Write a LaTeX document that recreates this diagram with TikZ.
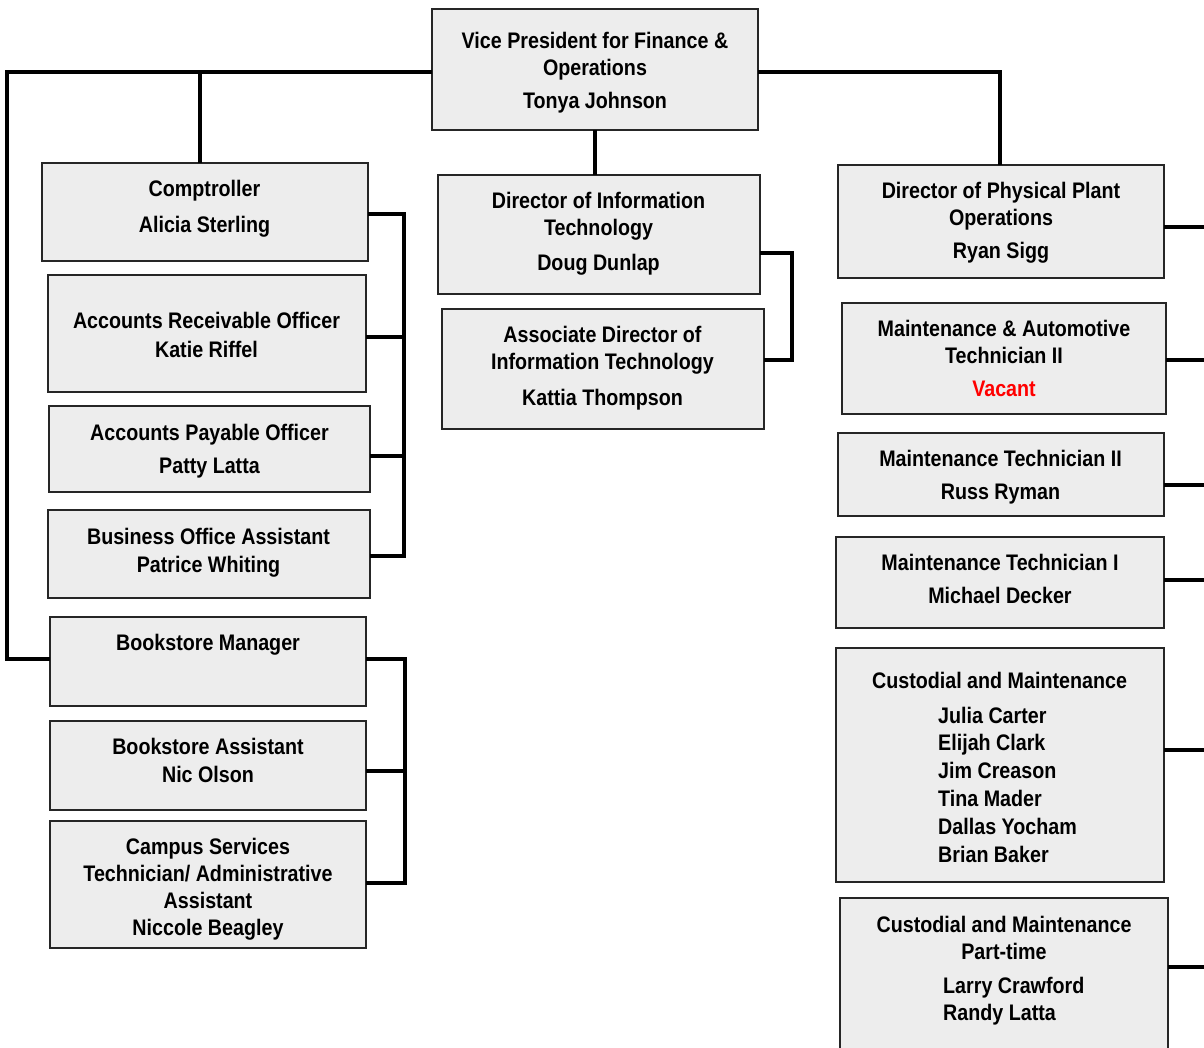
\documentclass[tikz,border=0pt]{standalone}
\usepackage{fontspec}
\setmainfont{Liberation Sans}[FakeStretch=0.875]
\usetikzlibrary{calc}
\definecolor{boxfill}{HTML}{EDEDED}
\definecolor{vac}{HTML}{FF0000}
\newcommand\obox[5]{\node[box, minimum width={#4-#2}, minimum height={#5-#3}] (#1) at ({(#2+#4)/2},{(#3+#5)/2}) {};}
\begin{document}
\begin{tikzpicture}[x=1pt,y=-1pt,
  box/.style={rectangle, draw=black!85, line width=2.2pt, fill=boxfill, inner sep=0pt, outer sep=0pt},
  conn/.style={line width=4pt, draw=black},
  txt/.style={font=\fontsize{22.5}{27}\selectfont\bfseries, align=center, inner sep=0pt, anchor=north},
  ltxt/.style={font=\fontsize{22.5}{27.8}\selectfont\bfseries, align=left, inner sep=0pt, anchor=north west}]
\useasboundingbox (0,0) rectangle (1204,1047);
\clip (0,0) rectangle (1204,1047);
% boxes
\obox{vp}{432}{9}{758}{130}
\obox{comp}{42}{163}{368}{261}
\obox{ar}{48}{275}{366}{392}
\obox{ap}{49}{406}{370}{492}
\obox{boa}{48}{510}{370}{598}
\obox{bm}{50}{617}{366}{706}
\obox{ba}{50}{721}{366}{810}
\obox{cs}{50}{821}{366}{948}
\obox{dit}{438}{175}{760}{294}
\obox{adit}{442}{309}{764}{429}
\obox{dpp}{838}{165}{1164}{278}
\obox{mat}{842}{303}{1166}{414}
\obox{mt2}{838}{433}{1164}{516}
\obox{mt1}{836}{537}{1164}{628}
\obox{cust}{836}{648}{1164}{882}
\obox{ptc}{840}{898}{1168}{1070}
% texts
\node[txt] (vpT) at (595,31.5) {Vice President for Finance \&\\Operations\\[6pt]Tonya Johnson};
\node[txt] (compT) at (204.5,179.5) {Comptroller\\[9pt]Alicia Sterling};
\node[txt] (arT) at (206.5,311.5) {Accounts Receivable Officer\\[2pt]Katie Riffel};
\node[txt] (apT) at (209.5,423.5) {Accounts Payable Officer\\[6pt]Patty Latta};
\node[txt] (boaT) at (208.5,527.5) {Business Office Assistant\\[1pt]Patrice Whiting};
\node[txt] (bmT) at (208,633.5) {Bookstore Manager};
\node[txt] (baT) at (208,737.5) {Bookstore Assistant\\[1pt]Nic Olson};
\begin{scope}
\clip (50,821) rectangle (366,939);
\node[txt] (csT) at (208,837.5) {Campus Services\\Technician/ Administrative\\Assistant\\Niccole Beagley};
\end{scope}
\node[txt] (ditT) at (598.5,191.5) {Director of Information\\Technology\\[8pt]Doug Dunlap};
\node[txt] (aditT) at (602.5,325.5) {Associate Director of\\Information Technology\\[9pt]Kattia Thompson};
\node[txt] (dppT) at (1001,181.5) {Director of Physical Plant\\Operations\\[6pt]Ryan Sigg};
\node[txt] (matT) at (1004,319.5) {Maintenance \& Automotive\\Technician II\\[6pt]\textcolor{vac}{Vacant}};
\node[txt] (mt2T) at (1000.5,449.5) {Maintenance Technician II\\[6pt]Russ Ryman};
\node[txt] (mt1T) at (1000,553.5) {Maintenance Technician I\\[6pt]Michael Decker};
\node[txt] (custT) at (999.5,671.5) {Custodial and Maintenance};
\node[ltxt] (custN) at (938,706.5) {Julia Carter\\Elijah Clark\\Jim Creason\\Tina Mader\\Dallas Yocham\\Brian Baker};
\node[txt] (ptcT) at (1004,915.5) {Custodial and Maintenance\\Part-time};
\node[ltxt] (ptcN) at (943,976.5) {Larry Crawford\\Randy Latta};
% connectors
\coordinate (lc) at (7,72);
\coordinate (lb) at (7,659);
\coordinate (rc) at (1000,72);
\draw[conn] (vp.west |- lc) -- (lc) -- (lb) -- (bm.west |- lb);
\draw[conn] ([xshift=-5pt]comp.north) -- ([xshift=-5pt]comp.north |- lc);
\draw[conn] (vp.east |- lc) -- (rc) -- (dpp.north -| rc);
\draw[conn] (vp.south) -- (vp.south |- dit.north);
% comptroller bracket
\coordinate (cbx) at (404,0);
\draw[conn] ([yshift=-2pt]comp.east) -| ([yshift=-2pt]cbx |- boa.east) -- ([yshift=-2pt]boa.east);
\draw[conn] ([yshift=-3.5pt]ar.east) -- ([yshift=-3.5pt]cbx |- ar.east);
\draw[conn] ([yshift=-7pt]ap.east) -- ([yshift=-7pt]cbx |- ap.east);
% bookstore bracket
\coordinate (bbx) at (405,0);
\draw[conn] ([yshift=2.5pt]bm.east) -| ([yshift=1.5pt]bbx |- cs.east) -- ([yshift=1.5pt]cs.east);
\draw[conn] ([yshift=-5.5pt]ba.east) -- ([yshift=-5.5pt]bbx |- ba.east);
% IT bracket
\coordinate (ibx) at (792,0);
\draw[conn] ([yshift=-18.5pt]dit.east) -| ([yshift=9pt]ibx |- adit.east) -- ([yshift=9pt]adit.east);
% right side stubs
\coordinate (rx) at (1212,0);
\draw[conn] ([yshift=-5.5pt]dpp.east) -- ([yshift=-5.5pt]rx |- dpp.east);
\draw[conn] ([yshift=-1.5pt]mat.east) -- ([yshift=-1.5pt]rx |- mat.east);
\draw[conn] ([yshift=-10.5pt]mt2.east) -- ([yshift=-10.5pt]rx |- mt2.east);
\draw[conn] ([yshift=2.5pt]mt1.east) -- ([yshift=2.5pt]rx |- mt1.east);
\draw[conn] ([yshift=15pt]cust.east) -- ([yshift=15pt]rx |- cust.east);
\draw[conn] (ptc.east |- 0,967) coordinate (ptcs) -- (rx |- ptcs);
\end{tikzpicture}
\end{document}
